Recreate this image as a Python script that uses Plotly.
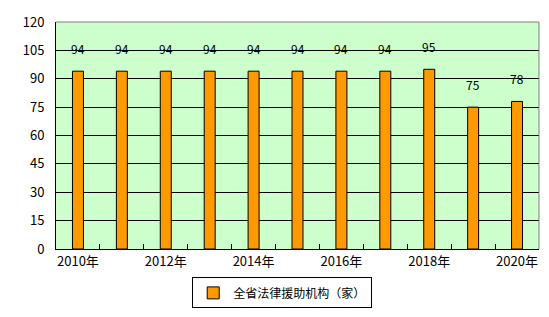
import plotly.graph_objects as go

years = ["2010年", "2011年", "2012年", "2013年", "2014年", "2015年", "2016年", "2017年", "2018年", "2019年", "2020年"]
values = [94, 94, 94, 94, 94, 94, 94, 94, 95, 75, 78]
tick_labels = ["2010年", "", "2012年", "", "2014年", "", "2016年", "", "2018年", "", "2020年"]
series_name = "全省法律援助机构（家）"

font = "Noto Sans CJK SC, SimSun, sans-serif"

fig = go.Figure()
fig.add_trace(go.Bar(
    x=years, y=values, name=series_name,
    marker=dict(color="#FF9900", line=dict(color="black", width=1)),
    width=0.25,
    showlegend=True,
))

for x, v in zip(years, values):
    fig.add_annotation(x=x, y=v, text=str(v), showarrow=False,
                       yanchor="bottom", yshift=12,
                       font=dict(family=font, size=12, color="black"))

fig.update_layout(
    width=549, height=317,
    margin=dict(l=56, r=10, t=22, b=68, autoexpand=False),
    paper_bgcolor="white",
    plot_bgcolor="#CCFFCC",
    font=dict(family=font, size=12, color="black"),
    showlegend=True,
    legend=dict(
        x=0.282, y=-0.125, xanchor="left", yanchor="top",
        orientation="h",
        bordercolor="black", borderwidth=1,
        font=dict(family=font, size=12, color="black"),
        bgcolor="white",
        itemwidth=30,
    ),
    bargap=0.75,
)
fig.update_xaxes(
    type="category",
    tickvals=years, ticktext=tick_labels, tickangle=0, automargin=False,
    tickson="boundaries", ticks="inside", ticklen=5, tickcolor="black",
    showline=True, linecolor="black", linewidth=1,
    showgrid=False,
    tickfont=dict(family=font, size=13, color="black"),
)
fig.update_yaxes(
    range=[0, 120], dtick=15, tick0=0, automargin=False,
    showline=True, linecolor="black", linewidth=1,
    showgrid=True, gridcolor="black", gridwidth=1,
    zeroline=False,
    ticks="", ticklabelstandoff=8,
    tickfont=dict(family=font, size=13, color="black"),
)
fig.add_shape(type="line", xref="paper", yref="paper", x0=0, x1=1, y0=1, y1=1,
              line=dict(color="#808080", width=1))
fig.add_shape(type="line", xref="paper", yref="paper", x0=1, x1=1, y0=0, y1=1,
              line=dict(color="#808080", width=1))

fig.write_html("out.html")
